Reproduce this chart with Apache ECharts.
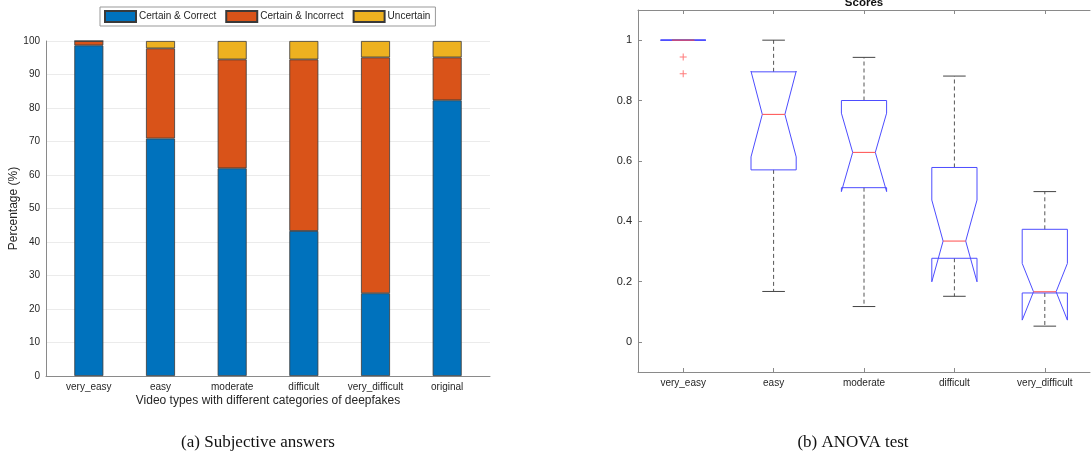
<!DOCTYPE html>
<html>
<head>
<meta charset="utf-8">
<script src="https://cdn.jsdelivr.net/npm/echarts@6/dist/echarts.min.js"></script>
<style>html,body{margin:0;padding:0;background:#fff;}#c{width:1091px;height:455px;}</style>
</head>
<body>
<div id="c"></div>
<script>
// ---- Left chart (a): stacked percentages ----
const categoriesA = ['very_easy', 'easy', 'moderate', 'difficult', 'very_difficult', 'original'];
const certainCorrect = [98.7, 70.9, 62.0, 43.3, 24.7, 82.3];
const certainIncorrect = [1.3, 26.9, 32.5, 51.2, 70.4, 12.8];
const uncertain = [0, 2.2, 5.5, 5.5, 4.9, 4.9];
const percentTicks = [0, 10, 20, 30, 40, 50, 60, 70, 80, 90, 100];

// ---- Right chart (b): notched box plots of scores ----
const categoriesB = ['very_easy', 'easy', 'moderate', 'difficult', 'very_difficult'];
const whiskerLow  = [1, 0.167, 0.117, 0.151, 0.052];
const q1          = [1, 0.570, 0.511, 0.277, 0.162];
const notchLow    = [1, 0.613, 0.498, 0.199, 0.072];
const median      = [1, 0.754, 0.628, 0.334, 0.166];
const notchHigh   = [1, 0.897, 0.758, 0.470, 0.260];
const q3          = [1, 0.895, 0.800, 0.578, 0.373];
const whiskerHigh = [1, 1.000, 0.943, 0.881, 0.498];
const outlierCat  = [0, 0];
const outlierVal  = [0.944, 0.889];

const FONT = 'Liberation Sans, Arial, Helvetica, sans-serif';
const TXT = '#262626';
const AX = '#8a8a8a';

const boxData = categoriesB.map((c, i) => [i, whiskerLow[i], q1[i], notchLow[i], median[i], notchHigh[i], q3[i], whiskerHigh[i]]);
const outliers = outlierCat.map((c, i) => [c, outlierVal[i]]);

function renderBox(params, api) {
  const xi = api.value(0);
  const v = k => api.value(k);
  const bw = api.size([1, 0])[0];
  const hw = bw * 0.25, nw = bw * 0.125;
  const P = val => api.coord([xi, val]);
  const cx = P(v(4))[0];
  const y = k => P(v(k))[1];
  const wlo = y(1), bq1 = y(2), nlo = y(3), med = y(4), nhi = y(5), bq3 = y(6), whi = y(7);
  const dash = {stroke: '#555', lineWidth: 1, lineDash: [4, 3]};
  const cap = {stroke: '#444', lineWidth: 1};
  return {
    type: 'group',
    children: [
      {type: 'line', shape: {x1: cx, y1: bq3, x2: cx, y2: whi}, style: dash},
      {type: 'line', shape: {x1: cx, y1: bq1, x2: cx, y2: wlo}, style: dash},
      {type: 'line', shape: {x1: cx - nw, y1: whi, x2: cx + nw, y2: whi}, style: cap},
      {type: 'line', shape: {x1: cx - nw, y1: wlo, x2: cx + nw, y2: wlo}, style: cap},
      {type: 'polygon', shape: {points: [
        [cx - hw, bq1], [cx - hw, nlo], [cx - nw, med], [cx - hw, nhi], [cx - hw, bq3],
        [cx + hw, bq3], [cx + hw, nhi], [cx + nw, med], [cx + hw, nlo], [cx + hw, bq1]
      ]}, style: {fill: 'none', stroke: '#4d4dff', lineWidth: 1}},
      {type: 'line', shape: {x1: cx - nw, y1: med, x2: cx + nw, y2: med}, style: {stroke: '#ff4d4d', lineWidth: 1}}
    ]
  };
}

const chart = echarts.init(document.getElementById('c'), null, {renderer: 'canvas'});
const barStyle = color => ({color: color, borderColor: '#3a3a3a', borderWidth: 0.8});

chart.setOption({
  animation: false,
  backgroundColor: '#fff',
  textStyle: {fontFamily: FONT},
  legend: {
    left: 100, top: 7,
    orient: 'horizontal',
    icon: 'rect',
    itemWidth: 31, itemHeight: 11, itemGap: 9,
    padding: [3, 5, 3, 4],
    borderColor: '#999', borderWidth: 1, backgroundColor: '#fff',
    textStyle: {fontSize: 10, color: TXT, fontFamily: FONT, padding: [0, 0, 0, -2]},
    data: ['Certain & Correct', 'Certain & Incorrect', 'Uncertain']
  },
  grid: [
    {left: 53, top: 41, width: 430, height: 335},   // bars (category bands)
    {left: 46, top: 41, width: 444, height: 335},   // axes frame (a)
    {left: 638, top: 10, width: 452, height: 362}   // box plots (b)
  ],
  xAxis: [
    {gridIndex: 0, type: 'category', data: categoriesA,
     axisLine: {show: false}, axisTick: {show: false},
     axisLabel: {interval: 0, fontSize: 10, color: TXT, fontFamily: FONT, margin: 6}},
    {gridIndex: 1, type: 'value', min: 0.4, max: 6.6,
     axisLine: {show: true, onZero: false, lineStyle: {color: AX, width: 1}}, axisTick: {show: false},
     axisLabel: {show: false}, splitLine: {show: false},
     name: 'Video types with different categories of deepfakes', nameLocation: 'middle', nameGap: 19,
     nameTextStyle: {fontSize: 12, color: TXT, fontFamily: FONT}},
    {gridIndex: 2, type: 'category', data: categoriesB, position: 'bottom',
     axisLine: {show: true, onZero: false, lineStyle: {color: AX, width: 1}},
     axisTick: {show: true, inside: true, alignWithLabel: true, length: 4, lineStyle: {color: AX}},
     axisLabel: {interval: 0, fontSize: 10, color: TXT, fontFamily: FONT, margin: 6}},
    {gridIndex: 2, type: 'category', data: categoriesB, position: 'top',
     axisLine: {show: true, onZero: false, lineStyle: {color: AX, width: 1}},
     axisTick: {show: true, inside: true, alignWithLabel: true, length: 4, lineStyle: {color: AX}},
     axisLabel: {show: false}}
  ],
  yAxis: [
    {gridIndex: 0, type: 'value', min: 0, max: 100, show: false},
    {gridIndex: 1, type: 'value', min: percentTicks[0], max: percentTicks[percentTicks.length - 1], interval: 10,
     axisLine: {show: true, lineStyle: {color: AX, width: 1}}, axisTick: {show: false},
     axisLabel: {fontSize: 10, color: TXT, fontFamily: FONT, margin: 6},
     splitLine: {show: true, lineStyle: {color: '#ebebeb', width: 1}},
     name: 'Percentage (%)', nameLocation: 'middle', nameGap: 26, nameRotate: 90,
     nameTextStyle: {fontSize: 12, color: TXT, fontFamily: FONT}},
    {gridIndex: 2, type: 'value', min: -0.1, max: 1.1,
     axisLine: {show: true, lineStyle: {color: AX, width: 1}},
     axisTick: {show: true, inside: true, length: 4, lineStyle: {color: AX}},
     axisLabel: {fontSize: 11, color: TXT, fontFamily: FONT, margin: 6,
       formatter: val => (Math.abs(val * 5 - Math.round(val * 5)) > 1e-6 ? '' : String(Math.round(val * 10) / 10))},
     splitLine: {show: false}}
  ],
  series: [
    {name: 'Certain & Correct', type: 'bar', stack: 'a', xAxisIndex: 0, yAxisIndex: 0, barWidth: 29,
     data: certainCorrect, itemStyle: barStyle('#0072BD')},
    {name: 'Certain & Incorrect', type: 'bar', stack: 'a', xAxisIndex: 0, yAxisIndex: 0, barWidth: 29,
     data: certainIncorrect, itemStyle: barStyle('#D95319')},
    {name: 'Uncertain', type: 'bar', stack: 'a', xAxisIndex: 0, yAxisIndex: 0, barWidth: 29,
     data: uncertain, itemStyle: barStyle('#EDB120')},
    {name: 'scores', type: 'custom', xAxisIndex: 2, yAxisIndex: 2,
     renderItem: renderBox, data: boxData, encode: {x: 0, y: [1, 2, 3, 4, 5, 6, 7]}, z: 3},
    {name: 'outliers', type: 'scatter', xAxisIndex: 2, yAxisIndex: 2, data: outliers,
     symbol: 'path://M0,3H3V0H4V3H7V4H4V7H3V4H0Z', symbolSize: 7,
     itemStyle: {color: '#ff5a5a'}, z: 4}
  ],
  graphic: [
    {type: 'text', x: 864, y: 9, style: {text: 'Scores', font: 'bold 11.5px ' + FONT, fill: '#111', textAlign: 'center', textVerticalAlign: 'bottom'}},
    {type: 'text', x: 258, y: 443, style: {text: '(a) Subjective answers', font: '17px Liberation Serif, Times New Roman, serif', fill: '#111', textAlign: 'center', textVerticalAlign: 'middle'}},
    {type: 'text', x: 853, y: 443, style: {text: '(b) ANOVA test', font: '17px Liberation Serif, Times New Roman, serif', fill: '#111', textAlign: 'center', textVerticalAlign: 'middle'}}
  ]
});
</script>
</body>
</html>
